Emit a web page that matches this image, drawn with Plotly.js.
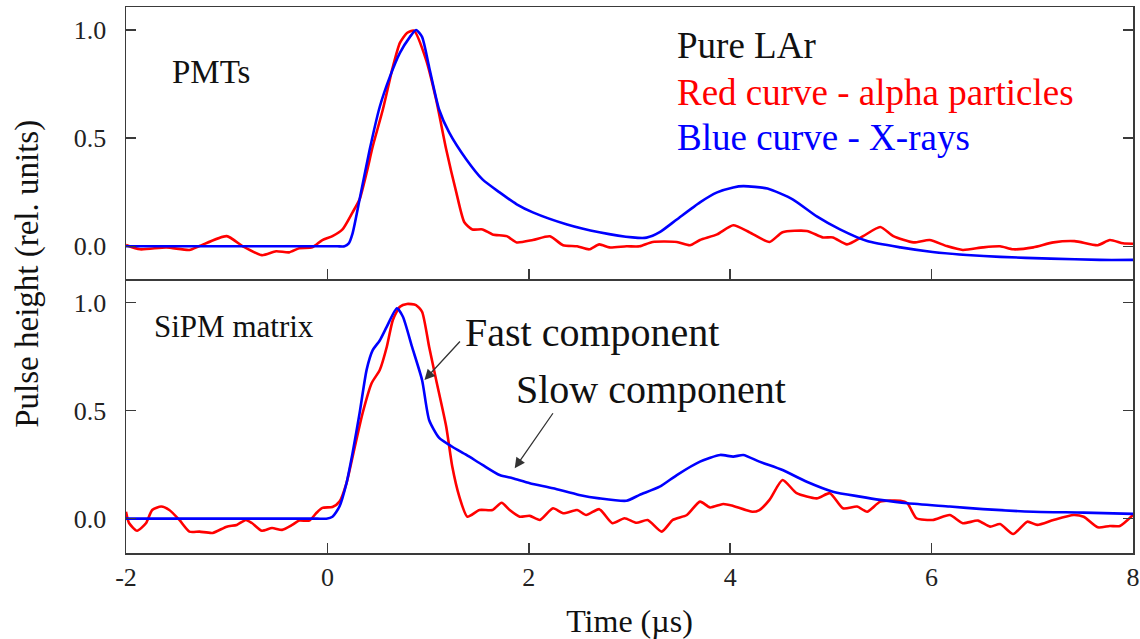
<!DOCTYPE html>
<html>
<head>
<meta charset="utf-8">
<script src="https://cdn.plot.ly/plotly-3.0.1.min.js"></script>
<style>html,body{margin:0;padding:0;background:#fff;}#chart{width:1140px;height:639px;}</style>
</head>
<body>
<div id="chart"></div>
<script>
// ---- Data ----
// Top panel: PMTs
const pmtAlphaT = [-2.0,-1.86,-1.60,-1.37,-1.27,-1.00,-0.84,-0.65,-0.51,-0.38,-0.28,-0.15,-0.05,0.05,0.15,0.25,0.32,0.39,0.45,0.55,0.65,0.72,0.79,0.86,0.98,1.08,1.18,1.28,1.36,1.44,1.54,1.64,1.78,1.88,2.04,2.21,2.34,2.48,2.60,2.70,2.80,2.97,3.10,3.23,3.47,3.60,3.70,3.87,4.03,4.19,4.39,4.52,4.76,4.92,5.02,5.16,5.32,5.49,5.62,5.82,5.98,6.15,6.31,6.51,6.68,6.81,7.01,7.21,7.42,7.65,7.77,7.90,8.0];
const pmtAlphaV = [0.006,-0.014,-0.005,-0.017,0.001,0.047,0.0,-0.041,-0.023,-0.028,-0.009,-0.005,0.029,0.047,0.078,0.157,0.217,0.341,0.461,0.631,0.829,0.940,0.986,0.997,0.862,0.677,0.447,0.249,0.111,0.078,0.078,0.055,0.047,0.018,0.029,0.046,0.005,0.0,-0.014,0.009,-0.005,0.0,0.0,0.020,0.020,0.005,0.029,0.055,0.097,0.065,0.020,0.065,0.071,0.041,0.041,0.009,0.047,0.089,0.047,0.018,0.029,0.001,-0.017,-0.005,0.0,-0.014,-0.005,0.018,0.024,0.005,0.029,0.014,0.012];

const pmtXrayT = [-2.0,-1.0,-0.5,0.0,0.1,0.17,0.21,0.25,0.32,0.42,0.52,0.62,0.72,0.82,0.88,0.94,1.01,1.11,1.21,1.38,1.54,1.71,1.88,2.04,2.38,2.70,3.03,3.17,3.30,3.47,3.70,3.87,4.03,4.13,4.37,4.62,4.86,5.09,5.36,5.69,6.01,6.35,6.68,7.18,7.67,8.0];
const pmtXrayV = [0.0,0.0,0.0,0.0,0.0,0.0,0.012,0.06,0.217,0.447,0.645,0.783,0.894,0.968,1.0,0.968,0.829,0.631,0.525,0.401,0.309,0.249,0.194,0.157,0.101,0.065,0.041,0.040,0.065,0.124,0.203,0.249,0.272,0.278,0.267,0.217,0.138,0.078,0.024,-0.005,-0.026,-0.040,-0.049,-0.057,-0.063,-0.063];

// Bottom panel: SiPM matrix
const sipmAlphaT = [-2.0,-1.97,-1.89,-1.80,-1.74,-1.65,-1.57,-1.47,-1.37,-1.27,-1.14,-1.00,-0.90,-0.81,-0.75,-0.65,-0.55,-0.45,-0.35,-0.28,-0.18,-0.11,-0.05,0.05,0.12,0.19,0.25,0.35,0.44,0.52,0.59,0.65,0.72,0.79,0.88,0.94,1.01,1.08,1.18,1.24,1.31,1.39,1.51,1.64,1.73,1.81,1.91,2.01,2.11,2.24,2.34,2.48,2.57,2.70,2.83,2.95,3.07,3.18,3.32,3.43,3.57,3.70,3.80,3.93,4.03,4.22,4.29,4.39,4.52,4.66,4.86,4.99,5.12,5.26,5.36,5.49,5.69,5.76,5.85,6.01,6.18,6.31,6.46,6.58,6.68,6.81,6.95,7.05,7.21,7.41,7.51,7.65,7.77,7.87,8.0];
const sipmAlphaV = [0.032,-0.020,-0.056,-0.020,0.040,0.056,0.040,-0.006,-0.060,-0.060,-0.066,-0.037,-0.029,-0.006,-0.020,-0.056,-0.043,-0.052,-0.029,-0.009,-0.009,0.026,0.050,0.054,0.079,0.165,0.286,0.489,0.628,0.688,0.796,0.920,0.981,0.994,0.989,0.958,0.796,0.642,0.426,0.241,0.102,0.009,0.040,0.040,0.074,0.040,0.009,0.013,-0.006,0.048,0.025,0.040,0.017,0.044,-0.021,0.002,-0.019,-0.006,-0.060,-0.006,0.017,0.079,0.052,0.068,0.059,0.032,0.040,0.087,0.179,0.118,0.094,0.118,0.048,0.056,0.032,0.079,0.083,0.071,0.002,-0.006,0.017,-0.021,-0.009,-0.037,-0.025,-0.071,-0.014,-0.029,-0.006,0.017,0.009,-0.040,-0.034,-0.034,0.017];

const sipmXrayT = [-2.0,-1.0,-0.5,-0.1,-0.01,0.05,0.12,0.19,0.25,0.32,0.39,0.45,0.52,0.59,0.69,0.75,0.84,0.94,1.01,1.11,1.24,1.38,1.54,1.71,1.84,2.01,2.24,2.50,2.70,2.97,3.10,3.30,3.47,3.70,3.90,4.03,4.13,4.29,4.52,4.76,5.02,5.29,5.49,5.76,6.18,6.51,7.01,7.51,8.0];
const sipmXrayV = [0.0,0.0,0.0,0.0,0.0,0.009,0.056,0.165,0.304,0.489,0.690,0.780,0.825,0.889,0.974,0.935,0.796,0.642,0.457,0.374,0.333,0.295,0.249,0.202,0.187,0.164,0.141,0.110,0.094,0.083,0.110,0.148,0.202,0.264,0.295,0.287,0.295,0.264,0.225,0.171,0.125,0.102,0.087,0.071,0.056,0.044,0.032,0.028,0.022];

const xTicks = [-2, 0, 2, 4, 6, 8];
const yTicks = [0.0, 0.5, 1.0];

// ---- Styling ----
const FONT = 'Liberation Serif, Times New Roman, Times, serif';
const RED = '#ff0000', BLUE = '#0000ff', AX = '#3a3a3a';

function line(x, y, color, xa, ya) {
  return {x: x, y: y, type: 'scatter', mode: 'lines', xaxis: xa, yaxis: ya,
    line: {color: color, width: 2.6, shape: 'spline', smoothing: 0.6},
    hoverinfo: 'skip', showlegend: false};
}

const traces = [
  line(pmtAlphaT, pmtAlphaV, RED, 'x2', 'y2'),
  line(pmtXrayT, pmtXrayV, BLUE, 'x2', 'y2'),
  line(sipmAlphaT, sipmAlphaV, RED, 'x', 'y'),
  line(sipmXrayT, sipmXrayV, BLUE, 'x', 'y')
];

const axCommon = {
  showline: true, linecolor: AX, linewidth: 1.5, showgrid: false, zeroline: false,
  ticks: 'inside', ticklen: 10, tickwidth: 1.5, tickcolor: AX,
  tickfont: {family: FONT, size: 26, color: '#222'}
};

const layout = {
  width: 1140, height: 639,
  margin: {l: 126, r: 7, t: 7, b: 86},
  paper_bgcolor: '#fff', plot_bgcolor: '#fff',
  font: {family: FONT, color: '#111'},
  xaxis: Object.assign({}, axCommon, {
    range: [-2, 8], tickvals: xTicks, ticktext: xTicks.map(String), mirror: true,
    anchor: 'y', domain: [0, 1], ticklabelstandoff: 0,
    title: {text: 'Time (\u00b5s)', font: {family: FONT, size: 32, color: '#111'}, standoff: 20}
  }),
  yaxis: Object.assign({}, axCommon, {
    range: [-0.159, 1.105], tickvals: yTicks, tickformat: '.1f', mirror: 'ticks',
    domain: [0, 0.5], anchor: 'x', ticklabelstandoff: 13
  }),
  xaxis2: Object.assign({}, axCommon, {
    range: [-2, 8], tickvals: xTicks, showticklabels: false, mirror: true,
    anchor: 'y2', matches: 'x'
  }),
  yaxis2: Object.assign({}, axCommon, {
    range: [-0.152, 1.106], tickvals: yTicks, tickformat: '.1f', mirror: 'ticks',
    domain: [0.5015, 1], anchor: 'x2', ticklabelstandoff: 13
  }),
  annotations: [
    {text: 'Pulse height (rel. units)', xref: 'paper', yref: 'paper', x: -0.098, y: 0.512,
     textangle: -90, showarrow: false, xanchor: 'center', yanchor: 'middle',
     font: {family: FONT, size: 33, color: '#111'}},
    {text: 'PMTs', xref: 'x2', yref: 'y2', x: -1.56, y: 0.806, xanchor: 'left', yanchor: 'middle',
     showarrow: false, font: {family: FONT, size: 33, color: '#111'}},
    {text: 'Pure LAr', xref: 'x2', yref: 'y2', x: 3.45, y: 0.926, xanchor: 'left', yanchor: 'middle',
     showarrow: false, font: {family: FONT, size: 37, color: '#111'}},
    {text: 'Red curve - alpha particles', xref: 'x2', yref: 'y2', x: 3.45, y: 0.712, xanchor: 'left', yanchor: 'middle',
     showarrow: false, font: {family: FONT, size: 37, color: RED}},
    {text: 'Blue curve - X-rays', xref: 'x2', yref: 'y2', x: 3.45, y: 0.502, xanchor: 'left', yanchor: 'middle',
     showarrow: false, font: {family: FONT, size: 37, color: BLUE}},
    {text: 'SiPM matrix', xref: 'x', yref: 'y', x: -1.74, y: 0.892, xanchor: 'left', yanchor: 'middle',
     showarrow: false, font: {family: FONT, size: 31, color: '#111'}},
    {text: 'Fast component', xref: 'x', yref: 'y', x: 1.35, y: 0.862, xanchor: 'left', yanchor: 'middle',
     showarrow: false, font: {family: FONT, size: 40, color: '#111'}},
    {text: 'Slow component', xref: 'x', yref: 'y', x: 1.85, y: 0.600, xanchor: 'left', yanchor: 'middle',
     showarrow: false, font: {family: FONT, size: 40, color: '#111'}},
    {text: '', xref: 'x', yref: 'y', x: 0.964, y: 0.642, axref: 'x', ayref: 'y', ax: 1.33, ay: 0.827,
     showarrow: true, arrowhead: 2, arrowsize: 1.6, arrowwidth: 1.3, arrowcolor: '#333'},
    {text: '', xref: 'x', yref: 'y', x: 1.86, y: 0.233, axref: 'x', ayref: 'y', ax: 2.25, ay: 0.495,
     showarrow: true, arrowhead: 2, arrowsize: 1.6, arrowwidth: 1.3, arrowcolor: '#333'}
  ]
};

Plotly.newPlot('chart', traces, layout, {staticPlot: true, displayModeBar: false});
</script>
</body>
</html>
